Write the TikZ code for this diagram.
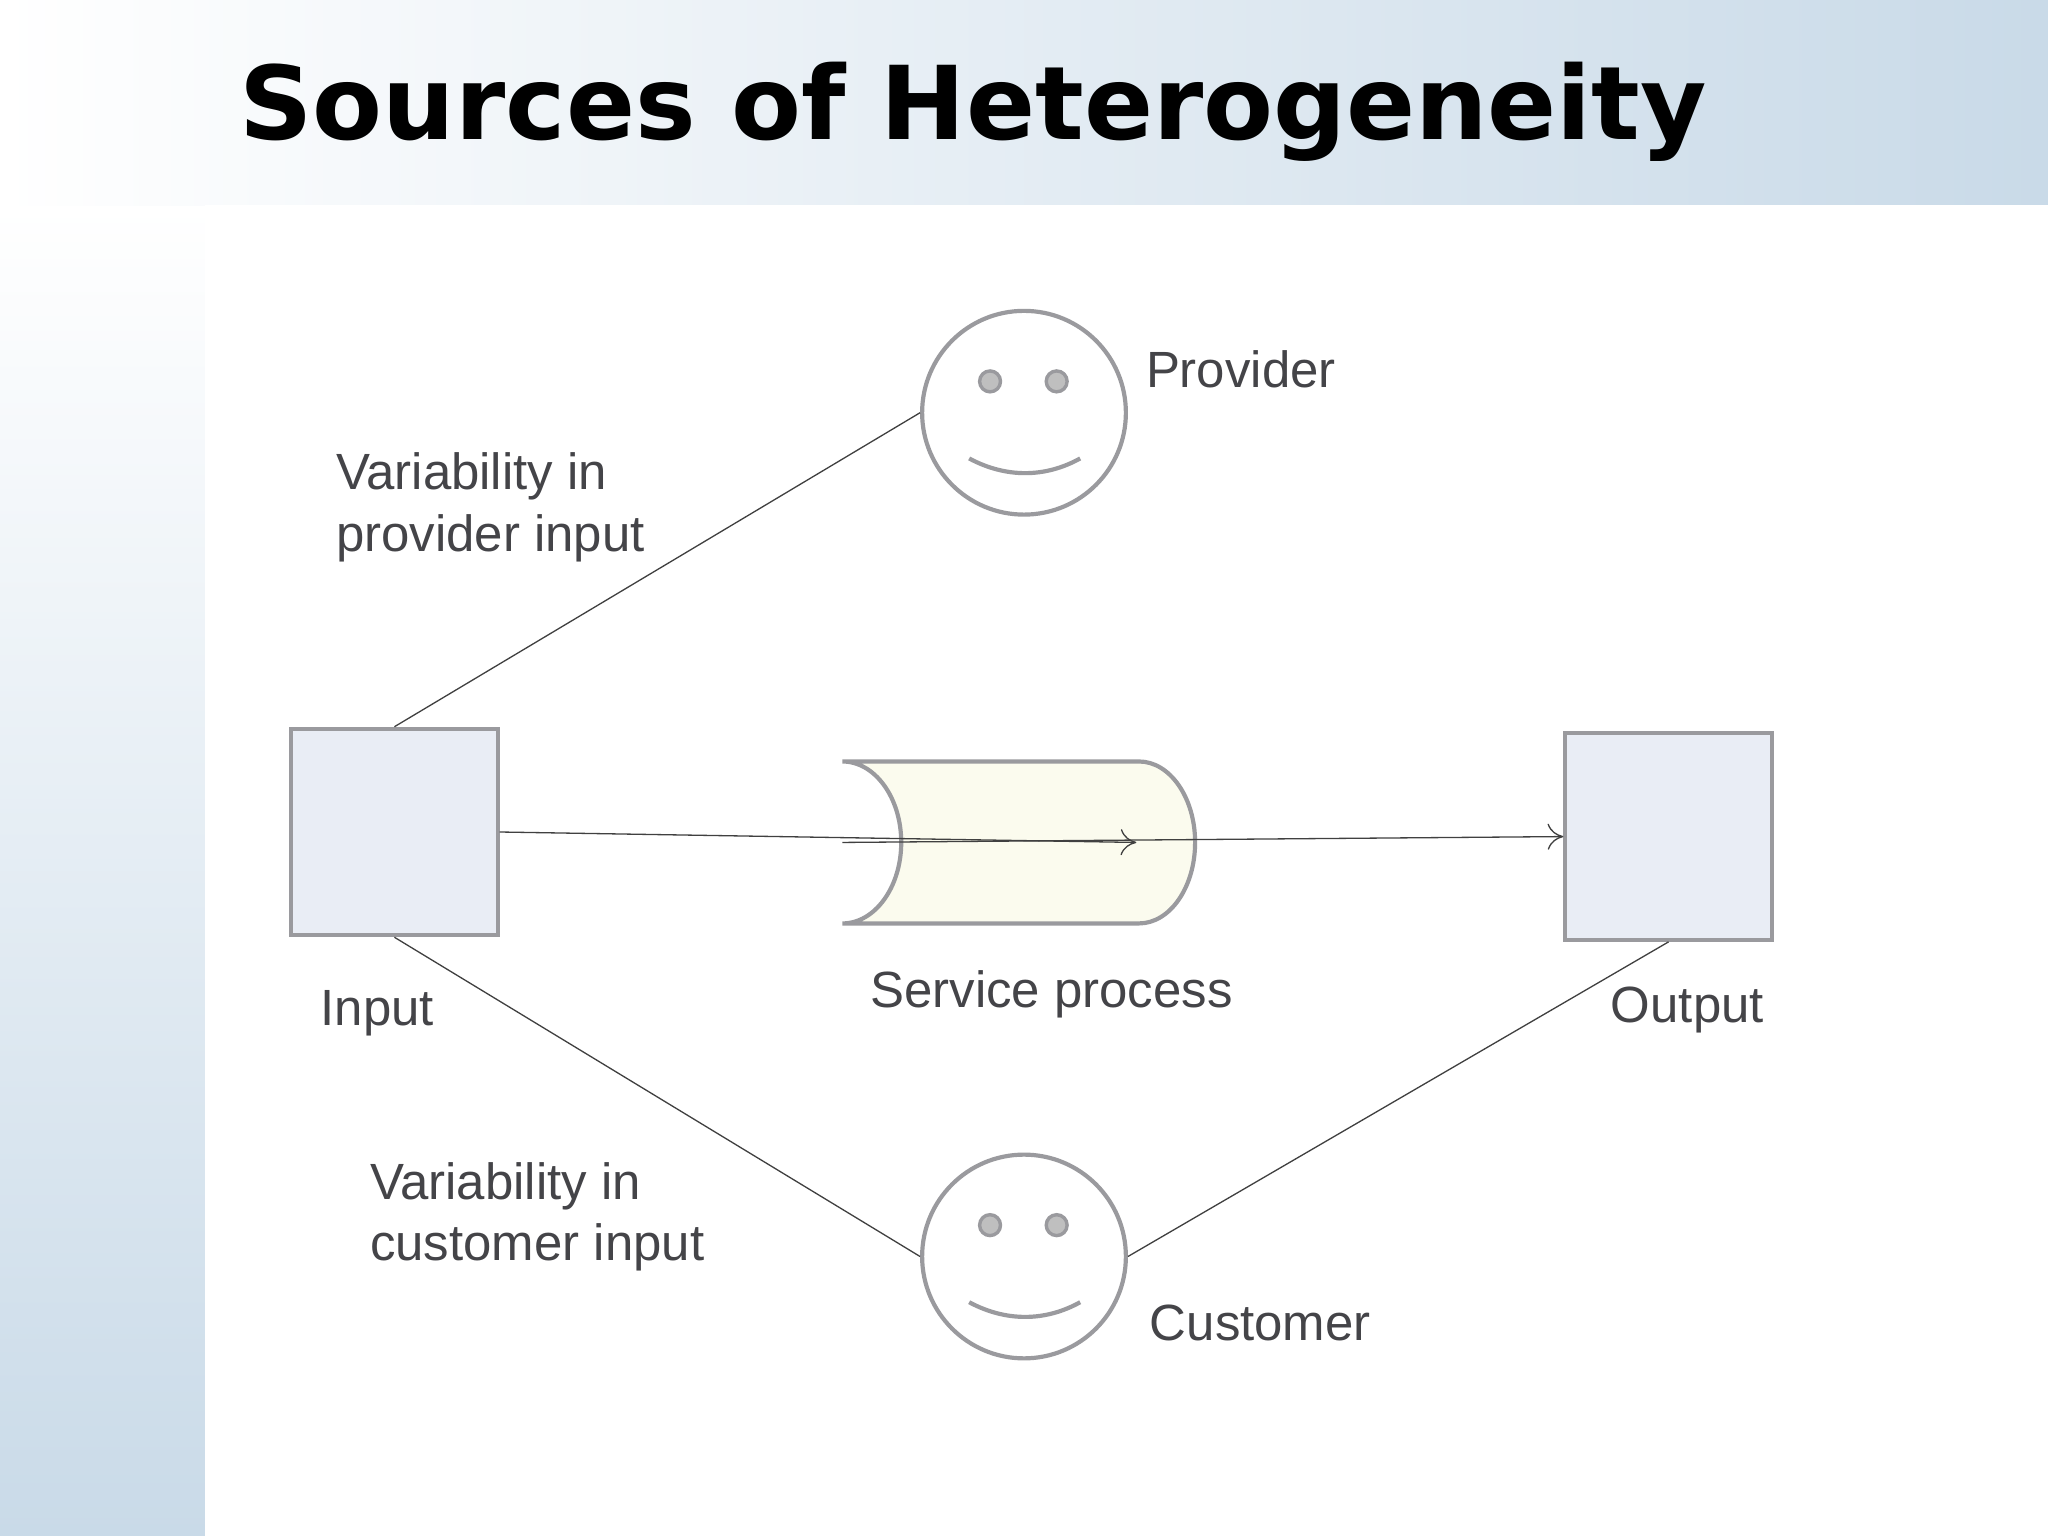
\documentclass[tikz,border=0pt]{standalone}
\usepackage{fontspec}
\setmainfont{Liberation Sans}
\newfontfamily\titlefont{DejaVu Sans}
\usetikzlibrary{arrows.meta}
\definecolor{txt}{HTML}{444448}
\definecolor{edge}{HTML}{9A9A9E}
\definecolor{boxfill}{HTML}{E9EDF5}
\definecolor{cylfill}{HTML}{FBFBEE}
\definecolor{bandblue}{HTML}{C9DAE8}
\tikzset{
 lbl/.style={font=\fontsize{19.5pt}{23.5pt}\selectfont, text=txt, anchor=base west, inner sep=0pt, align=left},
 sq/.style={draw=edge, line width=1.6pt, fill=boxfill},
 face/.style={draw=edge, line width=1.6pt, fill=white},
 link/.style={draw=black!75, line width=0.5pt},
 arr/.style={link, -{To[length=6pt,width=10pt]}}
}
\begin{document}
\begin{tikzpicture}[x=0.5pt,y=-0.5pt]
\useasboundingbox (0,0) rectangle (1568,1176);
\fill[white] (0,0) rectangle (1568,1176);
\shade[top color=white, bottom color=bandblue] (0,157) rectangle (157,1176);
\shade[left color=white, right color=bandblue] (0,0) rectangle (1568,157);
\fill[white] (157,157) rectangle (1568,1176);
\node[anchor=base west, inner sep=0pt, font=\titlefont\bfseries\fontsize{39pt}{46pt}\selectfont] (title) at (183,107) {Sources of Heterogeneity};
% boxes
\node[sq, minimum size=79pt, inner sep=0pt] (in) at (302,637) {};
\node[sq, minimum size=79pt, inner sep=0pt] (out) at (1277.5,640.5) {};
% cylinder
\filldraw[draw=edge, fill=cylfill, line width=1.6pt] (645,583) -- (872,583) arc[start angle=-90,end angle=90,x radius=43,y radius=62] -- (645,707) arc[start angle=90,end angle=-90,x radius=45,y radius=62] -- cycle;
\coordinate (cylL) at (645,645);
\coordinate (cylM) at (870,645);
% faces
\foreach \n/\y in {prov/316,cust/962}{
 \node[face, circle, minimum size=78pt, inner sep=0pt] (\n) at (784,\y) {};
 \filldraw[draw=edge, fill=black!25, line width=1.3pt] (758,\y-24) circle[radius=8] (809,\y-24) circle[radius=8];
 \draw[edge, line width=1.6pt] (742,\y+35) .. controls (770,\y+50) and (800,\y+50) .. (827,\y+35);
}
% links
\draw[link] (in.north) -- (prov.west);
\draw[link] (in.south) -- (cust.west);
\draw[link] (cust.east) -- (out.south);
\draw[arr] (in.east) -- (cylM);
\draw[arr] (cylL) -- (out.west);
% labels
\node[lbl] (l1) at (257,422) {Variability in\\provider input};
\node[lbl] (l2) at (283,965) {Variability in\\customer input};
\node[lbl] at (877,297) {Provider};
\node[lbl] at (245,785) {Input};
\node[lbl] at (666,771) {Service process};
\node[lbl] at (1233,783) {Output};
\node[lbl] at (880,1026) {Customer};
\end{tikzpicture}
\end{document}
